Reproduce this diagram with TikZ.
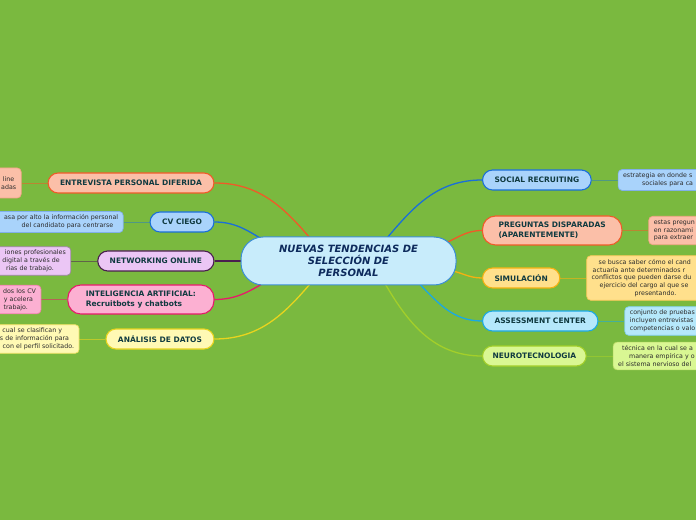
\documentclass[tikz,border=0pt]{standalone}
\usepackage{fontspec}
\setmainfont{DejaVu Sans}
\usetikzlibrary{positioning, calc}

\definecolor{bggreen}{HTML}{7AB93F}
\definecolor{hdtext}{HTML}{103A40}
\definecolor{notetext}{HTML}{2B2B2B}
\definecolor{navy}{HTML}{0D2A5C}
\definecolor{cfill}{HTML}{C8ECFB}
\definecolor{cline}{HTML}{3B8ED6}
\definecolor{orgA}{HTML}{F05A28}
\definecolor{salfill}{HTML}{FBBFA8}
\definecolor{bluA}{HTML}{1A6FD8}
\definecolor{blufill}{HTML}{A9D3FB}
\definecolor{purA}{HTML}{4A1F4F}
\definecolor{purfill}{HTML}{EBC6F5}
\definecolor{pinkA}{HTML}{E8196A}
\definecolor{pinkfill}{HTML}{FCB0D2}
\definecolor{yelA}{HTML}{E8D41E}
\definecolor{yelfill}{HTML}{FFF9B4}
\definecolor{ambA}{HTML}{F5B111}
\definecolor{ambfill}{HTML}{FFE08C}
\definecolor{cyaA}{HTML}{1AA9E3}
\definecolor{cyafill}{HTML}{B5E8FB}
\definecolor{limA}{HTML}{A3CF2A}
\definecolor{limfill}{HTML}{D9F793}

\pgfdeclarelayer{back}
\pgfdeclarelayer{wires}
\pgfsetlayers{back,wires,main}

\begin{document}
\begin{tikzpicture}[x=1pt, y=1pt, node distance=26pt,
    topic/.style={rounded corners=10pt, line width=1.1pt, minimum height=20pt,
      inner xsep=12pt, inner ysep=3pt, text=hdtext,
      font=\fontsize{7.5}{10}\selectfont\bfseries},
    topic2/.style={topic, rounded corners=13pt, inner xsep=18pt,
      minimum height=29pt, align=left},
    note/.style={rounded corners=4pt, line width=0.7pt, inner xsep=5pt,
      inner ysep=3.5pt, text=notetext, text width=130pt,
      font=\fontsize{6.3}{7.8}\selectfont},
    lnote/.style={note, align=right},
    rnote/.style={note, align=left},
    wire/.style={line width=1.3pt},
    twig/.style={line width=0.7pt}]
    \begin{pgfonlayer}{back}
    \fill[bggreen] (0,0) rectangle (696,520);
    \end{pgfonlayer}
    \useasboundingbox (0,0) rectangle (696,520);

    \node[draw=cline, fill=cfill, line width=1pt, rounded corners=22pt,
      minimum width=215pt, minimum height=48pt, align=center, text=navy,
      font=\fontsize{10}{12}\selectfont\bfseries\itshape] (C) at (348.5,259)
      {NUEVAS TENDENCIAS DE\\SELECCIÓN DE\\PERSONAL};

    \node[topic, fill=salfill, draw=orgA, anchor=east] (E) at (214.5,337) {ENTREVISTA PERSONAL DIFERIDA};
    \node[topic, fill=blufill, draw=bluA, anchor=east] (CV) at (214.5,298) {CV CIEGO};
    \node[topic, fill=purfill, draw=purA, anchor=east] (N) at (214.5,259) {NETWORKING ONLINE};
    \node[topic2, fill=pinkfill, draw=pinkA, anchor=east] (IA) at (214.5,220.5) {INTELIGENCIA ARTIFICIAL:\\Recruitbots y chatbots};
    \node[topic, fill=yelfill, draw=yelA, anchor=east] (AD) at (214.5,181) {ANÁLISIS DE DATOS};

    \node[topic, fill=blufill, draw=bluA, anchor=west] (SR) at (482,340) {SOCIAL RECRUITING};
    \node[topic2, fill=salfill, draw=orgA, anchor=west, inner xsep=16pt] (PD) at (482,289.5) {PREGUNTAS DISPARADAS\\(APARENTEMENTE)};
    \node[topic, fill=ambfill, draw=ambA, anchor=west] (S) at (482,242) {SIMULACIÓN};
    \node[topic, fill=cyafill, draw=cyaA, anchor=west] (AC) at (482,199) {ASSESSMENT CENTER};
    \node[topic, fill=limfill, draw=limA, anchor=west, inner xsep=10pt] (NT) at (482,164) {NEUROTECNOLOGIA};

    \node[lnote, fill=salfill, draw=orgA!55!white, minimum height=30pt, left=26pt of E] (E1) {line\kern2pt\\adas};
    \node[lnote, fill=blufill, draw=bluA!55!white, left=of CV] (CV1) {asa por alto la información personal\\del candidato para centrarse\kern5pt};
    \node[lnote, fill=purfill, draw=purA!55!white, left=of N] (N1) {iones profesionales\\digital a través de\kern6pt\\rias de trabajo.\kern12pt};
    \node[lnote, fill=pinkfill, draw=pinkA!55!white, left=of IA] (IA1) {dos los CV\\y acelera\kern3pt\\trabajo.\kern8pt};
    \node[lnote, fill=yelfill, draw=yelA!70!white, left=of AD] (AD1) {cual se clasifican y\kern12pt\\s de información para\kern5pt\\con el perfil solicitado.};

    \node[rnote, fill=blufill, draw=bluA!55!white, right=of SR] (SR1) {estrategia en donde s\\\hspace*{19pt}sociales para ca};
    \node[rnote, fill=salfill, draw=orgA!55!white, right=of PD] (PD1) {estas pregun\\en razonami\\para extraer};
    \node[rnote, fill=ambfill, draw=ambA!70!white, right=of S] (S1) {\hspace*{7pt}se busca saber cómo el cand\\\hspace*{1pt}actuaría ante determinados r\\conflictos que pueden darse du\\\hspace*{8pt}ejercicio del cargo al que se\\\hspace*{43pt}presentando.};
    \node[rnote, fill=cyafill, draw=cyaA!55!white, right=of AC] (AC1) {conjunto de pruebas\\incluyen entrevistas\\competencias o valo};
    \node[rnote, fill=limfill, draw=limA!70!white, right=of NT] (NT1) {\hspace*{4pt}técnica en la cual se a\\\hspace*{11pt}manera empírica y o\\el sistema nervioso del};

    \begin{pgfonlayer}{wires}
    \draw[wire, orgA] (E.east) to[out=0, in=130] ($(C)+(-36,20)$);
    \draw[wire, bluA] (CV.east) to[out=0, in=150] ($(C)+(-80,18)$);
    \draw[wire, purA] (N.east) -- ($(C)+(-100,0)$);
    \draw[wire, pinkA] (IA.east) to[out=0, in=210] ($(C)+(-78,-18)$);
    \draw[wire, yelA] (AD.east) to[out=0, in=230] ($(C)+(-36,-20)$);
    \draw[wire, bluA] (SR.west) to[out=180, in=50] ($(C)+(36,20)$);
    \draw[wire, orgA] (PD.west) to[out=180, in=20] ($(C)+(92,16)$);
    \draw[wire, ambA] (S.west) to[out=180, in=350] ($(C)+(100,-9)$);
    \draw[wire, cyaA] (AC.west) to[out=180, in=315] ($(C)+(68,-20)$);
    \draw[wire, limA] (NT.west) to[out=180, in=300] ($(C)+(35,-20)$);

    \draw[twig, orgA!55!bggreen] (E) -- (E1);
    \draw[twig, bluA!45!bggreen] (CV) -- (CV1);
    \draw[twig, purA!55!bggreen] (N) -- (N1);
    \draw[twig, pinkA!55!bggreen] (IA) -- (IA1);
    \draw[twig, yelA!60!bggreen] (AD) -- (AD1);
    \draw[twig, bluA!45!bggreen] (SR) -- (SR1);
    \draw[twig, orgA!55!bggreen] (PD) -- (PD1);
    \draw[twig, ambA!60!bggreen] (S) -- (S1);
    \draw[twig, cyaA!55!bggreen] (AC) -- (AC1);
    \draw[twig, limA!60!bggreen] (NT) -- (NT1);
    \end{pgfonlayer}
\end{tikzpicture}
\end{document}
